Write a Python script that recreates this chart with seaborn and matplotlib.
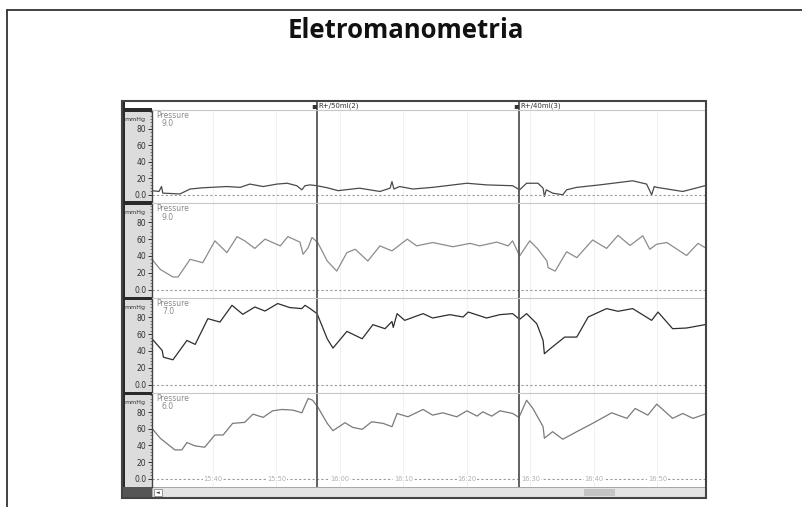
import numpy as np
import matplotlib.pyplot as plt
import seaborn as sns
from matplotlib.lines import Line2D
from matplotlib.patches import Rectangle

# time in minutes after 15:00, pressure in mmHg (one trace per channel)
t1 = [30.4, 31.5, 31.9, 32.1, 34.8, 36.4, 38.4, 42.2, 44.3, 45.8, 47.9, 50.1, 51.7, 53.2, 54.0, 54.5, 55.3,
      56.4, 58.0, 59.7, 63.1, 66.3, 67.9, 68.2, 68.5, 69.4, 71.5, 74.6, 80.0, 83.1, 87.2, 88.3, 89.4, 91.2,
      92.0, 92.2, 92.5, 93.5, 95.1, 95.7, 97.3, 100.9, 106.1, 108.3, 109.1, 109.5, 109.9, 114.0, 117.5]
p1 = [5, 4, 10, 2, 1, 7, 8.5, 10, 9, 13, 10, 13, 14, 11, 6, 11, 12,
      11, 8.5, 5, 8, 4, 8, 16, 7, 10, 7, 9, 14, 12, 11, 6, 14, 14,
      8, -2, 6, 2, 0, 6, 9, 12, 17, 13, 0, 10, 9, 4, 11]

t2 = [30.4, 31.7, 33.7, 34.5, 36.4, 38.4, 40.3, 42.2, 43.8, 45.0, 46.6, 48.2, 50.6, 51.8, 53.7, 54.2, 55.0,
      55.6, 56.5, 58.0, 59.5, 61.1, 62.4, 64.4, 66.3, 68.2, 70.6, 72.1, 74.6, 77.8, 80.5, 82.0, 84.7, 86.5,
      87.2, 88.3, 89.9, 91.2, 92.6, 92.8, 93.9, 95.7, 97.3, 99.8, 102.0, 103.8, 105.7, 107.7, 108.8, 109.9,
      111.5, 114.6, 116.4, 117.5]
p2 = [36, 24, 15, 15, 36, 32, 58, 44, 63, 58, 49, 60, 52, 63, 56.5, 42, 50,
      62, 56, 34, 22, 44, 48, 34, 52, 46, 60, 52, 56, 51, 55, 52, 56.5, 52,
      58, 40, 58, 48, 34, 26, 22, 45, 38, 59, 49, 64.5, 52.5, 64, 48, 54,
      56, 40.5, 55, 50]

t3 = [30.4, 32.0, 32.2, 33.7, 35.9, 37.2, 39.2, 41.1, 43.0, 44.7, 46.6, 48.2, 50.2, 52.1, 54.0, 54.5, 55.3,
      56.4, 58.0, 58.9, 61.1, 63.5, 65.2, 67.1, 68.2, 68.4, 69.0, 70.2, 73.1, 74.6, 77.3, 79.4, 80.2, 83.1,
      85.2, 87.2, 88.3, 89.4, 91.0, 92.0, 92.2, 93.1, 95.4, 97.3, 99.1, 102.0, 103.8, 106.1, 109.1, 110.1,
      112.4, 114.6, 117.5]
p3 = [54.5, 40.6, 32.6, 29.5, 52.5, 47.8, 78.4, 74.4, 94.3, 83.6, 92.3, 87.5, 96.4, 91.6, 90.4, 94.3, 90.4,
      84.4, 54.5, 43.4, 63.3, 54.5, 71.3, 66.5, 75, 68, 84.4, 76.4, 84.4, 79.2, 83.2, 80.4, 86.3, 79.2,
      83.2, 84.4, 77.6, 84.4, 72.5, 52.5, 36.7, 42.6, 56.5, 56.5, 80.4, 90.4, 87.2, 90.4, 76.4, 86.3,
      66.5, 67.3, 71.3]

t4 = [30.4, 31.7, 34.0, 35.1, 35.9, 37.2, 38.7, 40.3, 41.6, 43.1, 45.0, 46.3, 47.9, 49.4, 50.9, 52.6, 54.0,
      55.0, 55.7, 56.5, 58.0, 58.9, 60.8, 62.0, 63.5, 65.0, 66.8, 68.2, 69.0, 70.7, 73.1, 74.6, 76.2, 78.4,
      80.0, 81.6, 82.5, 83.9, 85.2, 87.2, 88.2, 89.4, 90.4, 92.0, 92.2, 93.5, 95.1, 97.3, 99.8, 102.8,
      105.2, 106.5, 108.5, 109.9, 112.4, 114.0, 115.6, 117.5]
p4 = [60.5, 48.6, 34.6, 34.6, 43.4, 39.4, 37.8, 52.5, 52.5, 66.5, 67.7, 77.6, 73.7, 81.6, 83.2, 82.4, 79.2,
      96.4, 94.3, 86.3, 66.5, 57.7, 67.3, 61.7, 59.3, 68.4, 66.5, 62.5, 78.4, 74.4, 83.2, 76.4, 79.2, 74.4,
      81.6, 75.2, 80.4, 75.2, 81.6, 78.4, 73.7, 94.3, 84.4, 62.5, 48.6, 56.5, 47.4, 56.5, 66.5, 79.2,
      72.5, 84.4, 76.4, 89.6, 72.5, 78.4, 72.5, 77.6]

channel_labels = ['9.0', '9.0', '7.0', '6.0']
trace_colors = ['#4a4a4a', '#8c8c8c', '#2e2e2e', '#7a7a7a']

event_times = [56.4, 88.2]
event_labels = ['R+/50ml(2)', 'R+/40ml(3)']

tick_times = [40, 50, 60, 70, 80, 90, 100, 110]
tick_labels = ['15:40', '15:50', '16:00', '16:10', '16:20', '16:30', '16:40', '16:50']

sns.set_style('white')
plt.rcParams['font.family'] = ['DejaVu Sans']

W, H = 802, 507
fig = plt.figure(figsize=(W / 100, H / 100), dpi=100)


def fx(x):
    return x / W


def fy(y):
    return 1 - y / H


def frect(x0, y0, x1, y1, **kw):
    kw.setdefault('zorder', -1)
    fig.add_artist(Rectangle((fx(x0), fy(y1)), fx(x1) - fx(x0), fy(y0) - fy(y1),
                             transform=fig.transFigure, **kw))


def fline(xs, ys, **kw):
    fig.add_artist(Line2D([fx(x) for x in xs], [fy(y) for y in ys], transform=fig.transFigure, **kw))


# slide frame + title
fline([7, 7], [10, 507], color='#333333', lw=1.3)
fline([7, 802], [10, 10], color='#333333', lw=1.3)
fig.text(fx(406), fy(31), 'Eletromanometria', ha='center', va='center',
         fontsize=18.5, fontweight='bold', family='Open Sans', color='#111111')

# instrument window chrome
X0, X1 = 152, 705
frect(122, 110, 152, 487, fc='#dcdcdc', ec='none')
frect(122, 101, 125, 498, fc='#2a2a2a', ec='none')
for yb in [110, 203, 298, 393]:
    frect(122, yb - 1.5, 152, yb + 1.5, fc='#2a2a2a', ec='none')
frect(122, 487, 152, 498, fc='#555555', ec='none')
frect(152, 487, 705, 498, fc='#e4e4e4', ec='#999999', lw=0.6)
frect(154, 489, 162, 496, fc='white', ec='#888888', lw=0.6)
fig.text(fx(158), fy(492.5), '◄', fontsize=3.5, ha='center', va='center', color='#333333')
frect(584, 489, 615, 496, fc='#c4c4c4', ec='none')

bounds = [(110, 203), (203, 298), (298, 393), (393, 487)]
traces = [(t1, p1), (t2, p2), (t3, p3), (t4, p4)]
xlim = (30.4, 117.5)

# header strip with event markers
hax = fig.add_axes([fx(X0), fy(110), fx(X1) - fx(X0), fy(101) - fy(110)])
hax.set_xlim(*xlim)
hax.set_ylim(0, 1)
hax.axis('off')
for t, lab in zip(event_times, event_labels):
    hax.axvline(t, color='#555555', lw=1.3)
    hax.text(t, 0.45, '\u25aa', ha='right', va='center', fontsize=6, color='#333333')
    hax.text(t + 0.2, 0.45, lab, ha='left', va='center', fontsize=5, color='#333333')

for i, ((t, p), (top, bot)) in enumerate(zip(traces, bounds)):
    ax = fig.add_axes([fx(X0), fy(bot), fx(X1) - fx(X0), fy(top) - fy(bot)])
    ax.set_facecolor('white')
    sns.lineplot(x=t, y=p, ax=ax, color=trace_colors[i], linewidth=0.9, estimator=None)
    ax.set_xlim(*xlim)
    ax.set_ylim(-10, 103)
    ax.set_xlabel('')
    ax.set_ylabel('')
    for s in ['top', 'right', 'bottom']:
        ax.spines[s].set_visible(False)
    ax.spines['left'].set_color('#444444')
    ax.spines['left'].set_linewidth(1.0)
    ax.set_yticks([0, 20, 40, 60, 80], labels=['0.0', '20', '40', '60', '80'])
    ax.set_yticks(np.arange(0, 101, 4), minor=True)
    ax.tick_params(axis='y', which='major', length=3, width=0.7, labelsize=5.5, pad=1,
                   colors='#333333', left=True)
    ax.tick_params(axis='y', which='minor', length=1.5, width=0.5, colors='#555555', left=True)
    ax.set_xticks(tick_times)
    ax.set_xticklabels([])
    ax.tick_params(axis='x', length=0)
    ax.grid(axis='x', color='#f1f1f1', lw=0.8)
    ax.axhline(0, color='#9a9a9a', ls=(0, (2, 2)), lw=0.8)
    for te in event_times:
        ax.axvline(te, color='#555555', lw=1.3)
    ax.text(-0.05, 0.93, 'mmHg', transform=ax.transAxes, fontsize=4.5, color='#333333',
            ha='left', va='top')
    ax.text(0.008, 0.985, 'Pressure', transform=ax.transAxes, fontsize=5.5, color='#8a8a8a',
            ha='left', va='top')
    ax.text(0.018, 0.90, channel_labels[i], transform=ax.transAxes, fontsize=5.5, color='#8a8a8a',
            ha='left', va='top')
    if i < 3:
        fline([X0, X1], [bot, bot], color='#c8c8c8', lw=0.8)
    else:
        for tt, lab in zip(tick_times, tick_labels):
            ax.text(tt, 0, lab, ha='center', va='center', fontsize=4.8, color='#b0b0b0',
                    bbox=dict(fc='white', ec='none', pad=0.6))

fline([X0, X1], [110, 110], color='#c8c8c8', lw=0.8)
frect(122, 101, 706, 498, fill=False, ec='#444444', lw=1.5, zorder=5)

plt.savefig('out.png', dpi=100)
